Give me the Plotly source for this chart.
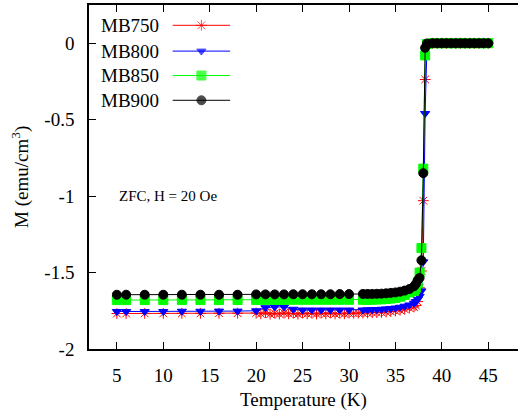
import plotly.graph_objects as go

# ---------------- data ----------------
T_common = [5, 6, 8, 10, 12, 14, 16, 18, 20, 21, 22, 23, 24, 25, 26, 27, 28, 29, 30,
            31.5, 32, 32.5, 33, 33.5, 34, 34.5, 35, 35.5, 36, 36.5, 37,
            37.2, 37.4, 37.6, 37.8, 38.0, 38.2, 38.4,
            39, 39.5, 40, 40.5, 41, 41.5, 42, 42.5, 43, 43.5, 44, 44.5, 45]

T_750 = [5, 6, 8, 10, 12, 14, 16, 18,
         20, 20.5, 21, 21.5, 22, 22.5, 23, 23.5, 24, 24.5, 25, 25.5, 26, 26.5, 27, 27.5,
         28, 28.5, 29, 29.5, 30,
         30.5, 31, 31.5, 32, 32.5, 33, 33.5, 34, 34.5, 35, 35.5, 36, 36.5, 37,
         37.2, 37.4, 37.6, 37.8, 38.0, 38.2, 38.4,
         39, 39.5, 40, 40.5, 41, 41.5, 42, 42.5, 43, 43.5, 44, 44.5, 45]

M_750 = [-1.768, -1.768, -1.767, -1.767, -1.767, -1.767, -1.766, -1.766,
         -1.765, -1.770, -1.763, -1.772, -1.766, -1.771, -1.764, -1.770, -1.766, -1.772,
         -1.765, -1.770, -1.766, -1.771, -1.765, -1.770, -1.764, -1.771, -1.766, -1.770, -1.765,
         -1.766, -1.765, -1.765, -1.764, -1.763, -1.762, -1.760, -1.758, -1.755, -1.751,
         -1.746, -1.740, -1.732, -1.725,
         -1.715, -1.690, -1.600, -1.490, -1.030, -0.237, -0.010,
         0.0, 0.0, 0.0, 0.0, 0.0, 0.0, 0.0, 0.0, 0.0, 0.0, 0.0, 0.0, 0.0]

M_800 = [-1.755, -1.755, -1.755, -1.755, -1.753, -1.753, -1.752, -1.752, -1.750, -1.730,
         -1.725, -1.725, -1.740, -1.745, -1.745, -1.745, -1.745, -1.745, -1.745,
         -1.745, -1.744, -1.743, -1.742, -1.740, -1.738, -1.735, -1.732, -1.727, -1.720,
         -1.712, -1.700,
         -1.690, -1.675, -1.655, -1.620, -1.430, -0.460, -0.010,
         0.0, 0.0, 0.0, 0.0, 0.0, 0.0, 0.0, 0.0, 0.0, 0.0, 0.0, 0.0, 0.0]

M_850 = [-1.680, -1.680, -1.680, -1.680, -1.680, -1.680, -1.680, -1.680, -1.679, -1.679,
         -1.679, -1.679, -1.678, -1.678, -1.678, -1.678, -1.678, -1.678, -1.678,
         -1.678, -1.678, -1.677, -1.676, -1.675, -1.673, -1.670, -1.666, -1.658, -1.646,
         -1.630, -1.620,
         -1.600, -1.570, -1.500, -1.340, -0.820, -0.080, -0.005,
         0.0, 0.0, 0.0, 0.0, 0.0, 0.0, 0.0, 0.0, 0.0, 0.0, 0.0, 0.0, 0.0]

M_900 = [-1.645, -1.645, -1.645, -1.645, -1.645, -1.645, -1.645, -1.645, -1.643, -1.643,
         -1.643, -1.643, -1.642, -1.642, -1.642, -1.642, -1.642, -1.641, -1.641,
         -1.640, -1.640, -1.640, -1.639, -1.638, -1.636, -1.633, -1.630, -1.625, -1.618,
         -1.608, -1.590,
         -1.575, -1.550, -1.535, -1.420, -0.850, -0.030, -0.002,
         0.0, 0.0, 0.0, 0.0, 0.0, 0.0, 0.0, 0.0, 0.0, 0.0, 0.0, 0.0, 0.0]

series_names = ["MB750", "MB800", "MB850", "MB900"]
series_colors = ["#ff0000", "#0000ff", "#00ff00", "#000000"]
series_symbols = ["asterisk-open", "triangle-down", "square", "circle"]
series_sizes = [9, 8, 9, 9]

x_ticks = [5, 10, 15, 20, 25, 30, 35, 40, 45]
y_ticks = [0, -0.5, -1, -1.5, -2]
y_ticktext = ["0", "-0.5", "-1", "-1.5", "-2"]

# --------------- figure ---------------
FONT = "Liberation Serif"
fig = go.Figure()

xs = [T_750, T_common, T_common, T_common]
ys = [M_750, M_800, M_850, M_900]
for name, col, sym, sz, x, y in zip(series_names, series_colors, series_symbols,
                                    series_sizes, xs, ys):
    fig.add_trace(go.Scatter(
        x=x, y=y, mode="lines+markers", name=name, showlegend=False,
        line=dict(color=col, width=1),
        marker=dict(symbol=sym, size=sz, color=col,
                    line=dict(color=col, width=1)),
    ))

# legend drawn inside plot (text left of the sample, gnuplot style)
leg_rows = [0.941, 0.866, 0.795, 0.723]
leg_x = [0.195, 0.262, 0.329]
for name, col, sym, sz, ry in zip(series_names, series_colors, series_symbols,
                                  series_sizes, leg_rows):
    fig.add_trace(go.Scatter(
        x=leg_x, y=[ry, ry, ry], xaxis="x2", yaxis="y2", mode="lines+markers",
        showlegend=False, hoverinfo="skip",
        line=dict(color=col, width=1),
        marker=dict(symbol=sym, size=[0, sz, 0], color=col,
                    line=dict(color=col, width=1)),
    ))
    fig.add_annotation(x=0.168, y=ry, xref="paper", yref="paper", text=name,
                       showarrow=False, xanchor="right", yanchor="middle",
                       font=dict(family=FONT, size=19, color="black"))

fig.add_annotation(x=0.065, y=0.444, xref="paper", yref="paper",
                   text="ZFC, H = 20 Oe", showarrow=False,
                   xanchor="left", yanchor="middle",
                   font=dict(family=FONT, size=15, color="black"))

fig.add_annotation(x=0.5, y=-0.149, xref="paper", yref="paper",
                   text="Temperature (K)", showarrow=False,
                   xanchor="center", yanchor="middle",
                   font=dict(family=FONT, size=19, color="black"))
fig.add_annotation(x=-0.161, y=0.5, xref="paper", yref="paper",
                   text="M (emu/cm<sup>3</sup>)", showarrow=False, textangle=-90,
                   xanchor="center", yanchor="middle",
                   font=dict(family=FONT, size=19, color="black"))

fig.update_layout(
    width=518, height=412,
    margin=dict(l=89, r=0, t=5, b=63),
    paper_bgcolor="white", plot_bgcolor="white",
    font=dict(family=FONT, size=19, color="black"),
    xaxis=dict(range=[2, 48.2], tickvals=x_ticks, ticks="inside", ticklen=7,
               tickwidth=1, tickcolor="black", showline=True, linecolor="black",
               linewidth=1.5, mirror="ticks", showgrid=False, zeroline=False,
               ticklabelstandoff=8),
    yaxis=dict(range=[-2, 0.25], tickvals=y_ticks, ticktext=y_ticktext,
               ticks="inside", ticklen=7, tickwidth=1, tickcolor="black",
               showline=True, linecolor="black", linewidth=1.5, mirror=False,
               showgrid=False, zeroline=False, ticklabelstandoff=9),
    xaxis2=dict(overlaying="x", range=[0, 1], visible=False),
    yaxis2=dict(overlaying="y", range=[0, 1], visible=False),
)

fig.write_html("out.html")
